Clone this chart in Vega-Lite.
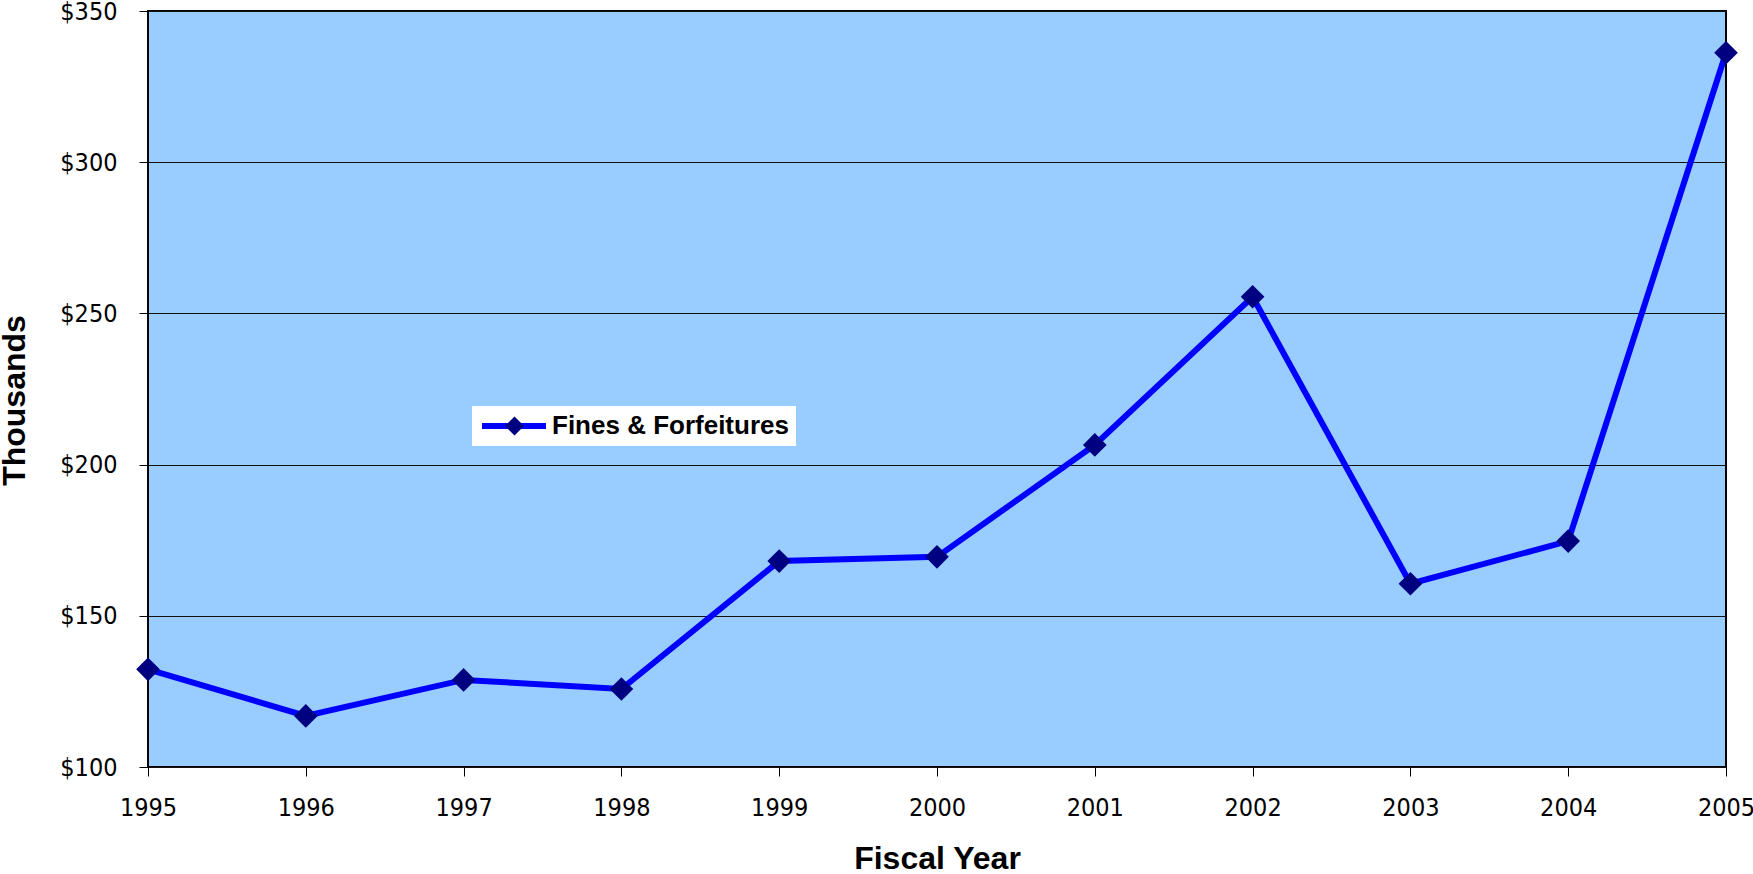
{
  "$schema": "https://vega.github.io/schema/vega-lite/v6.json",
  "width": 1578,
  "height": 756,
  "autosize": {"type": "none"},
  "padding": {"left": 148, "top": 11, "right": 27, "bottom": 107},
  "background": "white",
  "data": {
    "values": [
      {"year": 1995, "value": 132.3, "series": "Fines & Forfeitures", "marker": "m"},
      {"year": 1996, "value": 116.9, "series": "Fines & Forfeitures", "marker": "m"},
      {"year": 1997, "value": 128.8, "series": "Fines & Forfeitures", "marker": "m"},
      {"year": 1998, "value": 125.8, "series": "Fines & Forfeitures", "marker": "m"},
      {"year": 1999, "value": 168.1, "series": "Fines & Forfeitures", "marker": "m"},
      {"year": 2000, "value": 169.5, "series": "Fines & Forfeitures", "marker": "m"},
      {"year": 2001, "value": 206.5, "series": "Fines & Forfeitures", "marker": "m"},
      {"year": 2002, "value": 255.5, "series": "Fines & Forfeitures", "marker": "m"},
      {"year": 2003, "value": 160.6, "series": "Fines & Forfeitures", "marker": "m"},
      {"year": 2004, "value": 174.7, "series": "Fines & Forfeitures", "marker": "m"},
      {"year": 2005, "value": 336.2, "series": "Fines & Forfeitures", "marker": "m"}
    ]
  },
  "config": {
    "view": {"fill": "#99ccff", "stroke": "#000000", "strokeWidth": 2},
    "axis": {
      "domain": false,
      "tickColor": "#000000",
      "tickSize": 9,
      "tickWidth": 1,
      "labelFont": "DejaVu Sans Condensed, DejaVu Sans",
      "labelFontSize": 25,
      "labelColor": "#000000",
      "titleFont": "Liberation Sans, Arial",
      "titleFontWeight": "bold",
      "titleColor": "#000000"
    }
  },
  "encoding": {
    "x": {
      "field": "year",
      "type": "quantitative",
      "scale": {"domain": [1995, 2005], "nice": false, "zero": false},
      "axis": {
        "values": [1995, 1996, 1997, 1998, 1999, 2000, 2001, 2002, 2003, 2004, 2005],
        "format": "d",
        "labelFlush": false,
        "grid": false,
        "labelPadding": 19,
        "title": "Fiscal Year",
        "titleFontSize": 32,
        "titleBaseline": "alphabetic",
        "titleY": 101
      }
    },
    "y": {
      "field": "value",
      "type": "quantitative",
      "scale": {"domain": [100, 350], "nice": false, "zero": false},
      "axis": {
        "values": [100, 150, 200, 250, 300, 350],
        "labelExpr": "'$' + datum.value",
        "grid": true,
        "gridColor": "#111111",
        "gridWidth": 1,
        "labelPadding": 22,
        "title": "Thousands",
        "titleFontSize": 32,
        "titleAngle": -90,
        "titleAlign": "center",
        "titleBaseline": "alphabetic",
        "titleX": -124,
        "titleY": 389
      }
    }
  },
  "layer": [
    {
      "mark": {"type": "line", "strokeWidth": 6},
      "encoding": {
        "color": {
          "field": "series",
          "type": "nominal",
          "scale": {"range": ["#0000ff"]},
          "legend": {
            "title": null,
            "orient": "none",
            "legendX": 324,
            "legendY": 395,
            "padding": 7,
            "fillColor": "#ffffff",
            "strokeColor": null,
            "symbolType": "M-1,0H5.4",
            "symbolSize": 400,
            "symbolStrokeWidth": 6,
            "symbolStrokeColor": "#0000ff",
            "symbolFillColor": "transparent",
            "labelFont": "Liberation Sans, Arial",
            "labelFontWeight": "bold",
            "labelFontSize": 26,
            "labelColor": "#000000",
            "labelOffset": 47,
            "labelLimit": 500,
            "zindex": 1
          }
        }
      }
    },
    {
      "mark": {"type": "point", "filled": true, "size": 560, "color": "#000080", "opacity": 1},
      "encoding": {
        "shape": {
          "field": "marker",
          "type": "nominal",
          "scale": {"range": ["diamond"]},
          "legend": {
            "title": null,
            "orient": "none",
            "legendX": 346.5,
            "legendY": 395,
            "padding": 7,
            "symbolSize": 361,
            "symbolFillColor": "#000080",
            "symbolStrokeWidth": 0,
            "symbolOpacity": 1,
            "labelFont": "Liberation Sans, Arial",
            "labelFontWeight": "bold",
            "labelFontSize": 26,
            "labelOpacity": 0,
            "zindex": 2
          }
        }
      }
    }
  ]
}
